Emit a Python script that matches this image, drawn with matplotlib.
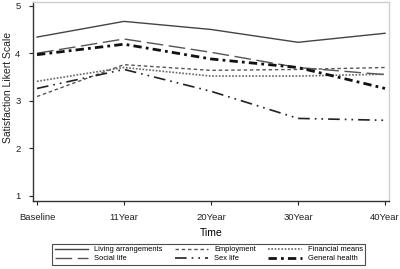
import matplotlib
matplotlib.use("Agg")
import matplotlib.pyplot as plt

# values
time_labels = ["Baseline", "11Year", "20Year", "30Year", "40Year"]
living = [4.34, 4.67, 4.50, 4.23, 4.42]
employment = [3.09, 3.76, 3.64, 3.66, 3.70]
financial = [3.41, 3.70, 3.52, 3.52, 3.56]
social = [4.00, 4.30, 4.02, 3.70, 3.55]
sex_life = [3.26, 3.66, 3.20, 2.63, 2.59]
general_health = [3.97, 4.19, 3.88, 3.70, 3.26]

plt.rcParams["font.family"] = ["Liberation Sans", "DejaVu Sans"]

fig = plt.figure(figsize=(4.0, 2.69), dpi=100)
ax = fig.add_axes([0.0825, 0.254, 0.89, 0.739])

x = list(range(len(time_labels)))
h_living, = ax.plot(x, living, color="#444444", lw=1.0, ls="-", label="Living arrangements")
h_emp, = ax.plot(x, employment, color="#555555", lw=1.0, ls=(0, (2.5, 2)), label="Employment")
h_fin, = ax.plot(x, financial, color="#666666", lw=1.2, ls=(0, (1, 1)), label="Financial means")
h_soc, = ax.plot(x, social, color="#555555", lw=1.0, ls=(0, (12, 4)), label="Social life")
h_sex, = ax.plot(x, sex_life, color="#222222", lw=1.2, ls=(0, (7, 3, 1, 3, 1, 3)), label="Sex life")
h_gen, = ax.plot(x, general_health, color="#111111", lw=2.0, ls=(0, (3, 1.5, 1, 1.5)), label="General health")

ax.set_xlim(-0.046, 4.046)
ax.set_ylim(0.9, 5.08)
ax.set_xticks(x)
ax.set_xticklabels(time_labels)
ax.set_yticks([1, 2, 3, 4, 5])
ax.tick_params(labelsize=6.8, length=3, width=0.8, pad=6, colors="#222222")

for side in ["top", "right"]:
    ax.spines[side].set_color("#d0d0d0")
    ax.spines[side].set_linewidth(1.0)
for side in ["left", "bottom"]:
    ax.spines[side].set_color("#333333")
    ax.spines[side].set_linewidth(1.0)

ax.set_xlabel("Time", fontsize=7.5, labelpad=4)
fig.text(0.02, 0.675, "Satisfaction Likert Scale", rotation=90, fontsize=7.5,
         ha="center", va="center", color="#222222")

# legend fills column-wise; order so rows read like the reference
handles = [h_living, h_soc, h_emp, h_sex, h_fin, h_gen]
labels = [h.get_label() for h in handles]
leg = fig.legend(handles, labels, ncol=3, loc="center",
                 bbox_to_anchor=(0.522, 0.055), fontsize=5.4,
                 frameon=True, fancybox=False, edgecolor="#222222",
                 handlelength=4.5, columnspacing=1.6, labelspacing=0.25,
                 borderpad=0.3, handletextpad=0.8)
leg.get_frame().set_linewidth(0.8)

fig.savefig("out.png", dpi=100)
